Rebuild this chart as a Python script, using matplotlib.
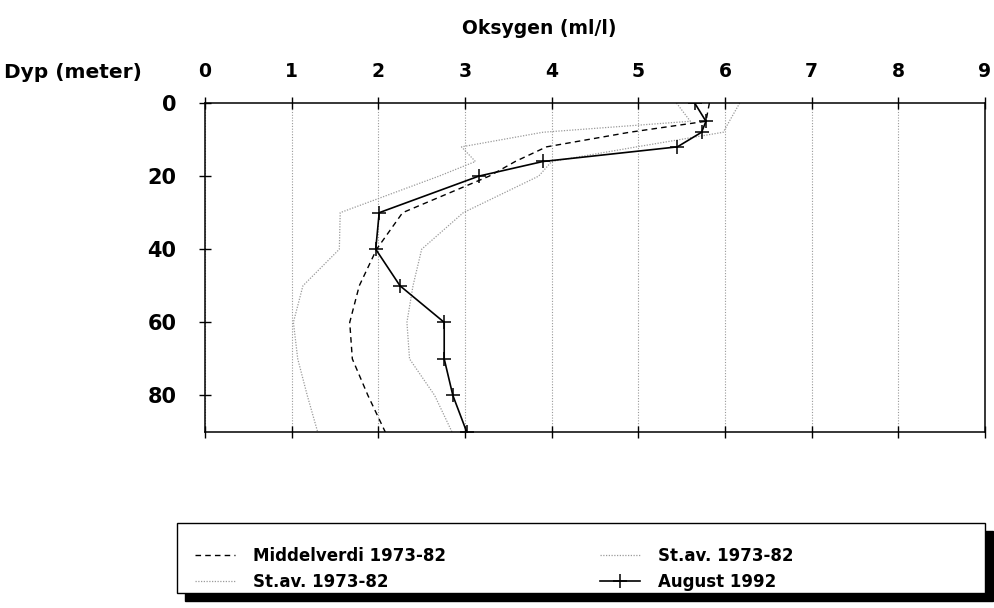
import matplotlib.pyplot as plt
from matplotlib.patches import Rectangle

plt.rcParams['font.family'] = ['DejaVu Sans']
plt.rcParams['font.weight'] = 'bold'

# depths (m) and oxygen (ml/l)
depth = [0, 5, 8, 12, 16, 20, 30, 40, 50, 60, 70, 80, 90]
middel = [5.82, 5.78, 4.90, 3.94, 3.58, 3.28, 2.28, 1.98, 1.78, 1.67, 1.70, 1.88, 2.08]
stav_hi = [6.17, 6.05, 5.98, 4.98, 4.00, 3.85, 2.98, 2.50, 2.40, 2.33, 2.36, 2.65, 2.85]
stav_lo = [5.44, 5.60, 3.90, 2.96, 3.12, 2.70, 1.56, 1.55, 1.13, 1.02, 1.07, 1.18, 1.30]
aug92 = [5.65, 5.78, 5.73, 5.45, 3.90, 3.16, 2.01, 1.97, 2.25, 2.76, 2.76, 2.86, 3.02]

xticks = list(range(10))
yticks = [0, 20, 40, 60, 80]

W, H = 994, 608
fig = plt.figure(figsize=(W/100, H/100), dpi=100)
ax = fig.add_axes([205/W, 1-432/H, 780/W, 329/H])

l1, = ax.plot(middel, depth, color='black', ls=(0, (4, 3)), lw=1.0)
l2, = ax.plot(stav_hi, depth, color='#9a9a9a', ls=(0, (1, 1.2)), lw=0.9)
l3, = ax.plot(stav_lo, depth, color='#9a9a9a', ls=(0, (1, 1.2)), lw=0.9)
l4, = ax.plot(aug92, depth, color='black', lw=1.2, marker='+', ms=10, mew=1.1)

ax.set_xlim(0, 9)
ax.set_ylim(90, 0)
ax.set_xticks(xticks)
ax.set_yticks(yticks)
ax.xaxis.tick_top()
ax.tick_params(axis='x', top=True, bottom=True, labeltop=True, labelbottom=False,
               direction='inout', length=9, width=1, pad=11, labelsize=13.5)
ax.tick_params(axis='y', left=True, right=False, direction='inout', length=9,
               width=1, pad=16, labelsize=15)
for lab in ax.get_xticklabels() + ax.get_yticklabels():
    lab.set_fontweight('bold')
ax.grid(axis='x', color='#999999', ls=(0, (1, 1.5)), lw=0.8)
for s in ax.spines.values():
    s.set_linewidth(1.1)

fig.text(4/W, 1-72/H, 'Dyp (meter)', ha='left', va='center', fontsize=14.5, fontweight='bold')
fig.text(539/W, 1-28/H, 'Oksygen (ml/l)', ha='center', va='center', fontsize=13.5, fontweight='bold')

# legend box with black drop shadow
fig.patches.append(Rectangle((185/W, 1-601/H), 808/W, 70/H, transform=fig.transFigure,
                             facecolor='black', edgecolor='black', zorder=1))
fig.patches.append(Rectangle((177/W, 1-593/H), 808/W, 70/H, transform=fig.transFigure,
                             facecolor='white', edgecolor='black', lw=1.0, zorder=2))

leg = fig.legend([l1, l3, l2, l4],
                 ['Middelverdi 1973-82', 'St.av. 1973-82', 'St.av. 1973-82', 'August 1992'],
                 ncol=2, loc='center left', bbox_to_anchor=(195/W, 1-569/H),
                 borderaxespad=0, borderpad=0, frameon=False,
                 prop={'size': 12, 'weight': 'bold'}, handlelength=2.4,
                 labelspacing=0.45, handletextpad=1.1, columnspacing=9.2)
leg.set_zorder(5)

fig.savefig('out.png', dpi=100)
